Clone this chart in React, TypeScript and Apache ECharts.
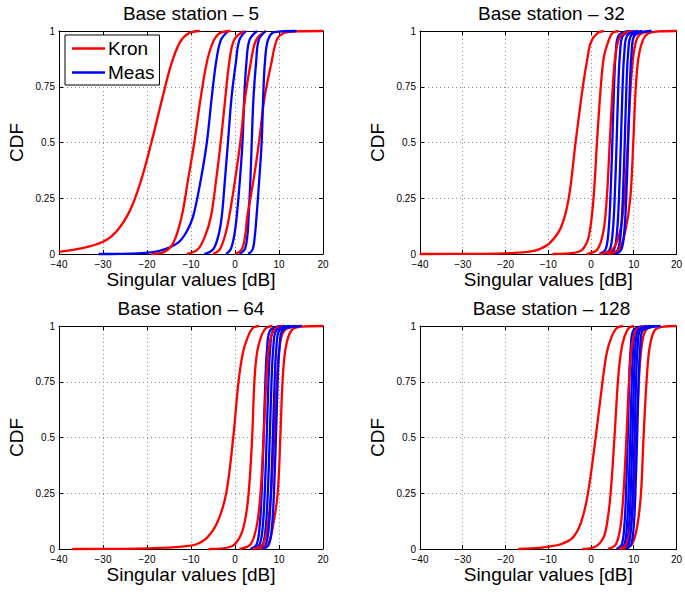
import React, { useEffect, useRef } from "react";
import * as echarts from "echarts";

const STATIONS = ["5", "32", "64", "128"];
const X_TICKS = [-40, -30, -20, -10, 0, 10, 20];
const Y_TICKS = [0, 0.25, 0.5, 0.75, 1];

// Each curve: [singular value dB, CDF] points
const KRON_5 = [
  [[-40, 0.01], [-35, 0.025], [-30, 0.055], [-27, 0.1], [-24, 0.19], [-21.5, 0.32], [-19, 0.5], [-16.5, 0.7], [-14.5, 0.85], [-12.5, 0.95], [-10.5, 0.99], [-8, 1]],
  [[-19, 0], [-16, 0.01], [-14, 0.05], [-12.1, 0.17], [-10.7, 0.33], [-9.25, 0.5], [-7.8, 0.7], [-6.4, 0.86], [-5, 0.95], [-3.5, 0.99], [-1, 1]],
  [[-11, 0], [-8.5, 0.02], [-6.8, 0.08], [-5.45, 0.17], [-4.3, 0.33], [-3.25, 0.5], [-2.2, 0.7], [-1.3, 0.86], [-0.2, 0.96], [2, 1]],
  [[-5, 0], [-3.5, 0.02], [-2.3, 0.08], [-1.3, 0.17], [0, 0.33], [1.2, 0.5], [2.3, 0.7], [3.6, 0.86], [4.8, 0.96], [7, 1]],
  [[0, 0], [1.5, 0.02], [2.3, 0.08], [2.8, 0.17], [4.2, 0.33], [5.45, 0.5], [6.7, 0.7], [8.3, 0.86], [9.5, 0.96], [11, 0.99], [14, 0.998], [20, 1]],
];
const MEAS_5 = [
  [[-31, 0], [-22, 0.003], [-17, 0.015], [-13, 0.05], [-11, 0.1], [-9.5, 0.17], [-7.8, 0.33], [-6.4, 0.5], [-5.3, 0.7], [-4.3, 0.86], [-3.2, 0.96], [-1.5, 1]],
  [[-7, 0], [-5, 0.02], [-3.8, 0.08], [-3, 0.17], [-2.3, 0.33], [-1.6, 0.5], [-0.8, 0.7], [0.2, 0.86], [1, 0.96], [2.5, 1]],
  [[-2, 0], [-1, 0.02], [-0.2, 0.08], [0.4, 0.17], [1.1, 0.33], [1.7, 0.5], [2.1, 0.7], [2.6, 0.86], [3.3, 0.96], [5, 1]],
  [[1, 0], [2.2, 0.02], [2.8, 0.08], [3.1, 0.17], [3.5, 0.33], [3.8, 0.5], [4.2, 0.7], [4.8, 0.86], [5.4, 0.96], [7, 1]],
  [[3, 0], [4, 0.02], [4.5, 0.08], [4.9, 0.17], [5.5, 0.33], [6.06, 0.5], [6.4, 0.7], [6.8, 0.86], [7.5, 0.96], [9, 0.995], [14, 1]],
];

const KRON_32 = [
  [[-40, 0], [-25, 0.001], [-18, 0.005], [-14, 0.012], [-12, 0.022], [-9.6, 0.05], [-7, 0.12], [-5.2, 0.25], [-3.6, 0.5], [-1.9, 0.75], [-0.8, 0.88], [0, 0.95], [1.5, 0.99], [3, 1]],
  [[-9, 0], [-4, 0.005], [-2, 0.02], [-0.5, 0.08], [0.6, 0.25], [1.4, 0.5], [2.3, 0.75], [3, 0.88], [4, 0.95], [5, 0.99], [6.5, 1]],
  [[-1, 0], [1.5, 0.02], [2.9, 0.1], [3.7, 0.25], [4.4, 0.5], [5.1, 0.75], [5.8, 0.9], [7, 0.98], [10, 1]],
  [[2, 0], [5, 0.02], [6.8, 0.1], [7.8, 0.25], [8.6, 0.5], [9.3, 0.75], [10, 0.9], [11.2, 0.98], [14, 1]],
  [[4, 0], [6.5, 0.02], [8, 0.1], [9.2, 0.25], [9.9, 0.5], [10.5, 0.75], [11.3, 0.9], [12.8, 0.98], [16, 0.998], [20, 1]],
];
const MEAS_32 = [
  [[2, 0], [3.4, 0.02], [4.1, 0.1], [4.55, 0.25], [5, 0.5], [5.4, 0.75], [5.8, 0.9], [6.5, 0.98], [9, 1]],
  [[3, 0], [4.4, 0.02], [5.1, 0.1], [5.55, 0.25], [6, 0.5], [6.4, 0.75], [6.8, 0.9], [7.5, 0.98], [10, 1]],
  [[4, 0], [5.4, 0.02], [6.1, 0.1], [6.55, 0.25], [7, 0.5], [7.4, 0.75], [7.8, 0.9], [8.5, 0.98], [11, 1]],
  [[4.9, 0], [6.3, 0.02], [7, 0.1], [7.45, 0.25], [7.9, 0.5], [8.3, 0.75], [8.7, 0.9], [9.4, 0.98], [12, 1]],
  [[5.7, 0], [7.1, 0.02], [7.8, 0.1], [8.25, 0.25], [8.7, 0.5], [9.1, 0.75], [9.5, 0.9], [10.2, 0.98], [14.2, 1]],
];

const KRON_64 = [
  [[-37, 0], [-25, 0.001], [-15, 0.006], [-11, 0.013], [-8.9, 0.02], [-6.4, 0.05], [-4, 0.12], [-2, 0.25], [-0.4, 0.5], [0.8, 0.75], [1.8, 0.88], [2.9, 0.95], [4, 0.99], [5.5, 1]],
  [[-6, 0], [-1, 0.01], [1, 0.05], [2.2, 0.12], [3.1, 0.25], [3.9, 0.5], [4.4, 0.75], [5, 0.88], [5.9, 0.95], [7, 0.99], [8.5, 1]],
  [[1, 0], [3.5, 0.02], [4.9, 0.1], [5.8, 0.25], [6.5, 0.5], [7.1, 0.75], [7.7, 0.9], [8.8, 0.98], [11, 1]],
  [[4, 0], [6.3, 0.02], [7.4, 0.1], [8.2, 0.25], [8.9, 0.5], [9.5, 0.75], [10.1, 0.9], [11.2, 0.98], [14, 1]],
  [[5.5, 0], [7.5, 0.02], [8.6, 0.1], [9.7, 0.25], [10.3, 0.5], [10.8, 0.75], [11.5, 0.9], [12.8, 0.98], [15, 0.997], [20, 1]],
];
const MEAS_64 = [
  [[3.5, 0], [4.9, 0.02], [5.6, 0.1], [6.05, 0.25], [6.5, 0.5], [6.9, 0.75], [7.3, 0.9], [8, 0.98], [10.5, 1]],
  [[4.2, 0], [5.6, 0.02], [6.3, 0.1], [6.75, 0.25], [7.2, 0.5], [7.6, 0.75], [8, 0.9], [8.7, 0.98], [11.5, 1]],
  [[4.9, 0], [6.3, 0.02], [7, 0.1], [7.45, 0.25], [7.9, 0.5], [8.3, 0.75], [8.7, 0.9], [9.4, 0.98], [12.5, 1]],
  [[5.6, 0], [7, 0.02], [7.7, 0.1], [8.15, 0.25], [8.6, 0.5], [9, 0.75], [9.4, 0.9], [10.1, 0.98], [13.5, 1]],
  [[6.3, 0], [7.7, 0.02], [8.4, 0.1], [8.85, 0.25], [9.3, 0.5], [9.7, 0.75], [10.1, 0.9], [10.8, 0.98], [15.2, 1]],
];

const KRON_128 = [
  [[-17, 0], [-12, 0.005], [-9.5, 0.012], [-7.3, 0.02], [-4.3, 0.05], [-2.3, 0.12], [-0.7, 0.25], [1.1, 0.5], [2.7, 0.75], [3.7, 0.88], [4.8, 0.95], [6, 0.99], [7.5, 1]],
  [[-2, 0], [1, 0.01], [2.9, 0.05], [3.8, 0.12], [4.6, 0.25], [5.5, 0.5], [6.3, 0.75], [7, 0.88], [7.8, 0.95], [8.8, 0.99], [10, 1]],
  [[4, 0], [5.8, 0.02], [6.9, 0.1], [7.6, 0.25], [8.3, 0.5], [8.9, 0.75], [9.5, 0.9], [10.5, 0.98], [12.5, 1]],
  [[6.5, 0], [8.3, 0.02], [9.3, 0.1], [10, 0.25], [10.6, 0.5], [11.2, 0.75], [11.8, 0.9], [12.8, 0.98], [15, 1]],
  [[7, 0], [9.5, 0.02], [10.8, 0.1], [11.7, 0.25], [12.3, 0.5], [13, 0.75], [13.7, 0.9], [14.9, 0.98], [17, 0.997], [20, 1]],
];
const MEAS_128 = [
  [[6, 0], [7.2, 0.02], [7.8, 0.1], [8.2, 0.25], [8.6, 0.5], [8.95, 0.75], [9.3, 0.9], [9.9, 0.98], [12, 1]],
  [[6.6, 0], [7.8, 0.02], [8.4, 0.1], [8.8, 0.25], [9.2, 0.5], [9.55, 0.75], [9.9, 0.9], [10.5, 0.98], [13, 1]],
  [[7.1, 0], [8.3, 0.02], [8.9, 0.1], [9.3, 0.25], [9.7, 0.5], [10.05, 0.75], [10.4, 0.9], [11, 0.98], [14, 1]],
  [[7.6, 0], [8.8, 0.02], [9.4, 0.1], [9.8, 0.25], [10.2, 0.5], [10.55, 0.75], [10.9, 0.9], [11.5, 0.98], [15, 1]],
  [[8.2, 0], [9.4, 0.02], [10, 0.1], [10.4, 0.25], [10.8, 0.5], [11.15, 0.75], [11.5, 0.9], [12.1, 0.98], [16.3, 1]],
];

const KRON = [KRON_5, KRON_32, KRON_64, KRON_128];
const MEAS = [MEAS_5, MEAS_32, MEAS_64, MEAS_128];

const FONT = "'Liberation Sans', Arial, Helvetica, sans-serif";
const GRIDS = [
  { left: 59, top: 31, width: 264, height: 223 },
  { left: 420, top: 31, width: 263, height: 223 },
  { left: 59, top: 326, width: 264, height: 223 },
  { left: 420, top: 326, width: 263, height: 223 },
];

const fmtX = (v: number) => (v < 0 ? "\u2212" + String(-v) : String(v));

export default function App() {
  const ref = useRef<HTMLDivElement>(null);
  useEffect(() => {
    if (!ref.current) return;
    const chart = echarts.init(ref.current, null, { renderer: "svg" });
    const xAxis: any[] = [];
    const yAxis: any[] = [];
    const series: any[] = [];
    const graphic: any[] = [];
    const axisLine = { show: true, onZero: false, lineStyle: { color: "#000", width: 1 } };
    const tick = { show: true, inside: true, length: 4, lineStyle: { color: "#000" } };
    const split = { show: true, lineStyle: { color: "#8a8a8a", type: [1, 3], width: 1 } };
    GRIDS.forEach((g, i) => {
      xAxis.push({
        type: "value", gridIndex: i, min: X_TICKS[0], max: X_TICKS[X_TICKS.length - 1], interval: 10,
        position: "bottom", axisLine, axisTick: tick, splitLine: split,
        axisLabel: { color: "#000", fontSize: 10, lineHeight: 10, fontFamily: FONT, margin: 5, formatter: fmtX, showMinLabel: true, showMaxLabel: true },
        name: "Singular values [dB]", nameLocation: "middle", nameGap: 16,
        nameTextStyle: { color: "#000", fontSize: 19, fontFamily: FONT, verticalAlign: "top" },
      });
      xAxis.push({
        type: "value", gridIndex: i, min: X_TICKS[0], max: X_TICKS[X_TICKS.length - 1], interval: 10,
        position: "top", axisLine, axisTick: tick, splitLine: { show: false }, axisLabel: { show: false },
      });
      yAxis.push({
        type: "value", gridIndex: i, min: Y_TICKS[0], max: Y_TICKS[Y_TICKS.length - 1], interval: 0.25,
        position: "left", axisLine, axisTick: tick, splitLine: split,
        axisLabel: { color: "#000", fontSize: 10, lineHeight: 10, fontFamily: FONT, margin: 4 },
        name: "CDF", nameLocation: "middle", nameGap: 33,
        nameTextStyle: { color: "#000", fontSize: 19, fontFamily: FONT },
      });
      yAxis.push({
        type: "value", gridIndex: i, min: Y_TICKS[0], max: Y_TICKS[Y_TICKS.length - 1], interval: 0.25,
        position: "right", axisLine, axisTick: tick, splitLine: { show: false }, axisLabel: { show: false },
      });
      graphic.push({
        type: "text", x: g.left + g.width / 2, y: g.top - 18,
        style: { text: "Base station \u2013 " + STATIONS[i], fill: "#000", font: "19px " + FONT, align: "center", verticalAlign: "middle" },
      });
      const curves: [string, string, number[][][]][] = [["Kron", "#ff0000", KRON[i]], ["Meas", "#0000ff", MEAS[i]]];
      const n = Math.max(KRON[i].length, MEAS[i].length);
      for (let k = 0; k < n; k++) {
        curves.forEach(([name, color, arr]) => {
          if (!arr[k]) return;
          series.push({
            type: "line", name, xAxisIndex: 2 * i, yAxisIndex: 2 * i, data: arr[k],
            showSymbol: false, symbol: "none", smooth: 0.35, clip: false,
            lineStyle: { color, width: 2.3 }, itemStyle: { color }, silent: true,
          });
        });
      }
    });
    chart.setOption({
      animation: false,
      grid: GRIDS.map((g) => ({ ...g, containLabel: false })),
      xAxis, yAxis, series, graphic,
      legend: {
        data: ["Kron", "Meas"], orient: "vertical", left: 65, top: 35,
        itemWidth: 33, itemHeight: 2.3, itemGap: 5, icon: "rect", selectedMode: false,
        backgroundColor: "#fff", borderColor: "#000", borderWidth: 1, borderRadius: 0,
        padding: [4, 5, 3, 7],
        textStyle: { color: "#000", fontSize: 19, fontFamily: FONT, padding: [0, 0, 0, -2] },
      },
    });
    return () => chart.dispose();
  }, []);
  return <div ref={ref} style={{ position: "absolute", left: 0, top: 0, width: 685, height: 592 }} />;
}
